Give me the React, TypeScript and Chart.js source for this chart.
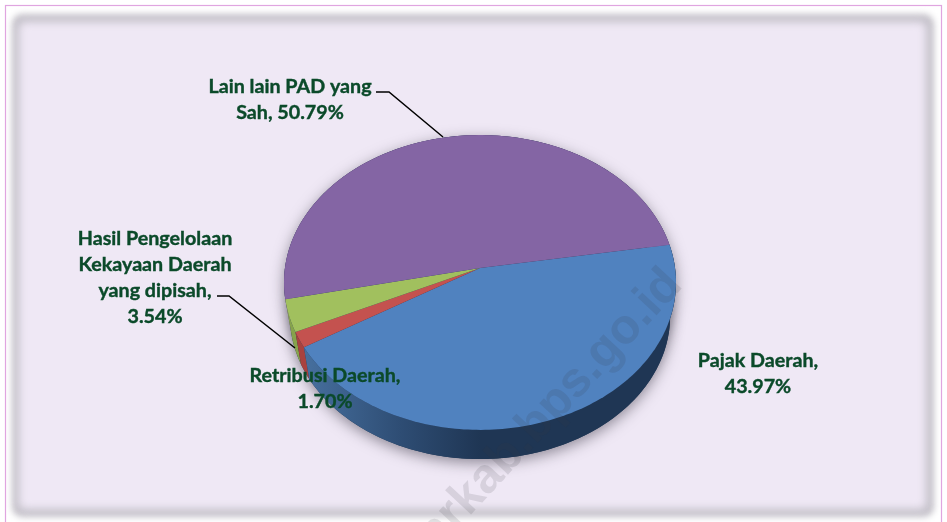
import React, { useEffect, useRef } from "react";
import { Chart, registerables } from "chart.js";

Chart.register(...registerables);

const categories = ["Pajak Daerah", "Retribusi Daerah", "Hasil Pengelolaan Kekayaan Daerah", "Lain lain PAD yang Sah"];
const shares = [43.97, 1.7, 3.54, 50.79];
const topColors = ["#5082bf", "#c4524f", "#a1c05e", "#8465a4"];
const sideColors = ["#1f3654", "#a8423f", "#86a34c", "#5f4a7c"];
const labelLines = [
  ["Pajak Daerah,", "43.97%"],
  ["Retribusi Daerah,", "1.70%"],
  ["Hasil Pengelolaan", "Kekayaan Daerah", "yang dipisah,", "3.54%"],
  ["Lain lain PAD yang", "Sah, 50.79%"],
];
const labelAnchors = [
  [758, 361],
  [325, 376],
  [155, 239],
  [290, 87],
];
const leaderLines = [
  [[376, 92], [389, 92], [443, 137]],
  [[217, 296], [229, 296], [295, 348]],
];
const watermark = "karkab.bps.go.id";

const TILT = 0.0983;
const Y_SCALE = 0.741;
const X_SCALE = 0.99;
const DEPTH = 34;
const BOTTOM_SCALE = 0.97;

function project(arc: any, t: number, lower = false) {
  const u = Math.cos(t);
  const v = Math.sin(t);
  const w = 1 / (1 - TILT * v);
  const dx = arc.outerRadius * X_SCALE * u * w;
  const dy = arc.outerRadius * Y_SCALE * v * w;
  return lower
    ? [arc.x + BOTTOM_SCALE * dx, arc.y + DEPTH + BOTTOM_SCALE * dy]
    : [arc.x + dx, arc.y + dy];
}

function samples(a: number, b: number) {
  const n = Math.max(2, Math.ceil((b - a) / 0.02));
  const out: number[] = [];
  for (let i = 0; i <= n; i++) out.push(a + ((b - a) * i) / n);
  return out;
}

const pie3d = {
  id: "pie3d",
  beforeDraw(chart: any) {
    const { ctx } = chart;
    ctx.save();
    ctx.fillStyle = "#ffffff";
    ctx.fillRect(0, 0, chart.width, chart.height);
    ctx.filter = "blur(3px)";
    ctx.fillStyle = "#c4c1c9";
    ctx.beginPath();
    ctx.roundRect(12, 14, 922, 503, 10);
    ctx.fill();
    ctx.filter = "blur(4px)";
    ctx.fillStyle = "#efe8f5";
    ctx.beginPath();
    ctx.roundRect(19, 22, 907, 487, 6);
    ctx.fill();
    ctx.filter = "none";
    ctx.strokeStyle = "#e0a5e0";
    ctx.lineWidth = 1.2;
    ctx.strokeRect(5.5, 5.5, 936, 530);
    ctx.restore();
  },
  beforeDatasetDraw(chart: any, args: any) {
    const { ctx } = chart;
    const arcs = args.meta.data;
    ctx.save();

    const first = arcs[0];
    ctx.save();
    ctx.shadowColor = "rgba(50,45,60,0.5)";
    ctx.shadowBlur = 14;
    ctx.shadowOffsetY = 4;
    ctx.fillStyle = "#1f3654";
    ctx.beginPath();
    samples(0, Math.PI * 2).forEach((t, i) => {
      const [x, y] = project(first, t, true);
      i ? ctx.lineTo(x, y) : ctx.moveTo(x, y);
    });
    ctx.closePath();
    ctx.fill();
    ctx.beginPath();
    samples(0, Math.PI * 2).forEach((t, i) => {
      const [x, y] = project(first, t);
      i ? ctx.lineTo(x, y) : ctx.moveTo(x, y);
    });
    ctx.closePath();
    ctx.fill();
    ctx.restore();

    for (let k = arcs.length - 1; k >= 0; k--) {
      const a = arcs[k];
      const ts = samples(a.startAngle, a.endAngle);
      ctx.beginPath();
      ts.forEach((t, i) => {
        const [x, y] = project(a, t);
        i ? ctx.lineTo(x, y) : ctx.moveTo(x, y);
      });
      [...ts].reverse().forEach((t) => {
        const [x, y] = project(a, t, true);
        ctx.lineTo(x, y);
      });
      ctx.closePath();
      if (k === 0) {
        const g = ctx.createLinearGradient(a.x - a.outerRadius * 0.9, 0, a.x, 0);
        g.addColorStop(0, "#47709f");
        g.addColorStop(0.55, "#2e4d74");
        g.addColorStop(1, sideColors[0]);
        ctx.fillStyle = g;
      } else {
        ctx.fillStyle = sideColors[k];
      }
      ctx.fill();
    }

    arcs.forEach((a: any, k: number) => {
      ctx.beginPath();
      ctx.moveTo(a.x, a.y);
      samples(a.startAngle, a.endAngle).forEach((t) => {
        const [x, y] = project(a, t);
        ctx.lineTo(x, y);
      });
      ctx.closePath();
      ctx.fillStyle = topColors[k];
      ctx.fill();
    });
    ctx.restore();
    return false;
  },
  afterDraw(chart: any) {
    const { ctx } = chart;
    ctx.save();
    ctx.save();
    ctx.translate(684, 286);
    ctx.rotate((-47 * Math.PI) / 180);
    ctx.font = 'bold 49px "Liberation Sans"';
    ctx.textAlign = "right";
    ctx.textBaseline = "alphabetic";
    ctx.fillStyle = "rgba(55,55,60,0.13)";
    ctx.fillText(watermark, 0, 0);
    ctx.restore();

    ctx.strokeStyle = "#000000";
    ctx.lineWidth = 1.5;
    leaderLines.forEach((line) => {
      ctx.beginPath();
      line.forEach(([x, y], i) => (i ? ctx.lineTo(x, y) : ctx.moveTo(x, y)));
      ctx.stroke();
    });

    ctx.font = 'bold 19.7px Lato';
    ctx.fillStyle = "#0b4a2a";
    ctx.strokeStyle = "#0b4a2a";
    ctx.lineWidth = 0.4;
    ctx.textAlign = "center";
    ctx.textBaseline = "middle";
    labelLines.forEach((lines, k) => {
      lines.forEach((s, i) => {
        ctx.fillText(s, labelAnchors[k][0], labelAnchors[k][1] + i * 26);
        ctx.strokeText(s, labelAnchors[k][0], labelAnchors[k][1] + i * 26);
      });
    });
    ctx.restore();
  },
};

export default function App() {
  const ref = useRef<HTMLCanvasElement>(null);
  useEffect(() => {
    const chart = new Chart(ref.current!, {
      type: "pie",
      data: {
        labels: categories,
        datasets: [{ data: shares, backgroundColor: topColors, borderWidth: 0 }],
      },
      options: {
        animation: false,
        responsive: false,
        rotation: 80.7,
        layout: { padding: { top: 71, bottom: 57, left: 13, right: 0 } },
        plugins: { legend: { display: false }, tooltip: { enabled: false } },
      },
      plugins: [pie3d],
    });
    return () => chart.destroy();
  }, []);
  return (
    <canvas
      ref={ref}
      width={947}
      height={522}
      style={{ position: "fixed", left: 0, top: 0, display: "block" }}
    />
  );
}
